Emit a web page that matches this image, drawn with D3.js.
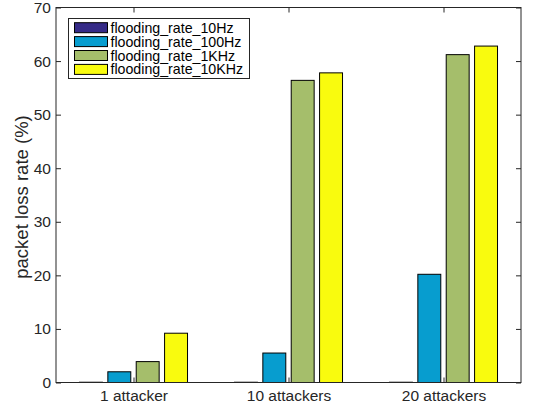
<!DOCTYPE html>
<html><head><meta charset="utf-8">
<script src="https://cdn.jsdelivr.net/npm/d3@7"></script>
<style>body{margin:0;background:#fff}svg{display:block}text{font-family:"Liberation Sans",Arial,Helvetica,sans-serif}</style>
</head><body><svg id="c" width="534" height="409"></svg>
<script>
const categories = ["1 attacker", "10 attackers", "20 attackers"];
const seriesNames = ["flooding_rate_10Hz", "flooding_rate_100Hz", "flooding_rate_1KHz", "flooding_rate_10KHz"];
const rate10Hz  = [0.05, 0.05, 0.05];
const rate100Hz = [2.0, 5.5, 20.2];
const rate1KHz  = [3.9, 56.4, 61.2];
const rate10KHz = [9.2, 57.8, 62.8];
const colors = ["#352a87", "#079dcf", "#a5be6b", "#f9fb0e"];
const yTicks = [0, 10, 20, 30, 40, 50, 60, 70];

const series = [rate10Hz, rate100Hz, rate1KHz, rate10KHz];
const svg = d3.select("#c");
const L = 56, R = 521, T = 7.5, B = 382.5;
const axisCol = "#262626";

const x = d3.scaleLinear().domain([0.5, 3.5]).range([L, R]);
const y = d3.scaleLinear().domain([0, 70]).range([B, T]);
const step = 0.183, bw = 0.148;

const g = svg.append("g");
series.forEach((s, si) => {
  g.selectAll(null).data(s).enter().append("rect")
    .attr("x", (d, i) => x(i + 1 + (si - 1.5) * step - bw / 2))
    .attr("width", x(bw) - x(0))
    .attr("y", d => y(d))
    .attr("height", d => y(0) - y(d))
    .attr("fill", colors[si])
    .attr("stroke", "#000").attr("stroke-width", 1);
});

// axes box
svg.append("rect").attr("x", L).attr("y", T).attr("width", R - L).attr("height", B - T)
  .attr("fill", "none").attr("stroke", axisCol).attr("stroke-width", 1);

const yAxisL = d3.axisLeft(y).tickValues(yTicks).tickSizeInner(-5).tickSizeOuter(0).tickPadding(5);
const yAxisR = d3.axisRight(y).tickValues(yTicks).tickSizeInner(-5).tickSizeOuter(0).tickFormat("");
const xAxisB = d3.axisBottom(x).tickValues([1, 2, 3]).tickSizeInner(-5).tickSizeOuter(0).tickPadding(7).tickFormat((d) => categories[d - 1]);
const xAxisT = d3.axisTop(x).tickValues([1, 2, 3]).tickSizeInner(-5).tickSizeOuter(0).tickFormat("");

function style(sel) {
  sel.select(".domain").remove();
  sel.selectAll("line").attr("stroke", axisCol);
  sel.selectAll("text").attr("fill", axisCol).style("font-size", "15.5px");
}
svg.append("g").attr("transform", `translate(${L},0)`).call(yAxisL).call(style);
svg.append("g").attr("transform", `translate(${R},0)`).call(yAxisR).call(style);
svg.append("g").attr("transform", `translate(0,${B})`).call(xAxisB).call(style);
svg.append("g").attr("transform", `translate(0,${T})`).call(xAxisT).call(style);

svg.append("text").attr("transform", `translate(28,${(T + B) / 2 + 2}) rotate(-90)`)
  .attr("text-anchor", "middle").attr("fill", axisCol).style("font-size", "18.5px")
  .text("packet loss rate (%)");

// legend
const lg = svg.append("g");
lg.append("rect").attr("x", 68.5).attr("y", 18.5).attr("width", 181).attr("height", 60)
  .attr("fill", "#fff").attr("stroke", axisCol).attr("stroke-width", 1);
seriesNames.forEach((n, i) => {
  const cy = 27.7 + i * 13.9;
  lg.append("rect").attr("x", 74.5).attr("y", cy - 5).attr("width", 33).attr("height", 10)
    .attr("fill", colors[i]).attr("stroke", "#000").attr("stroke-width", 1);
  lg.append("text").attr("x", 110.5).attr("y", cy + 5).attr("fill", "#000")
    .style("font-size", "14.2px").text(n);
});
</script></body></html>
